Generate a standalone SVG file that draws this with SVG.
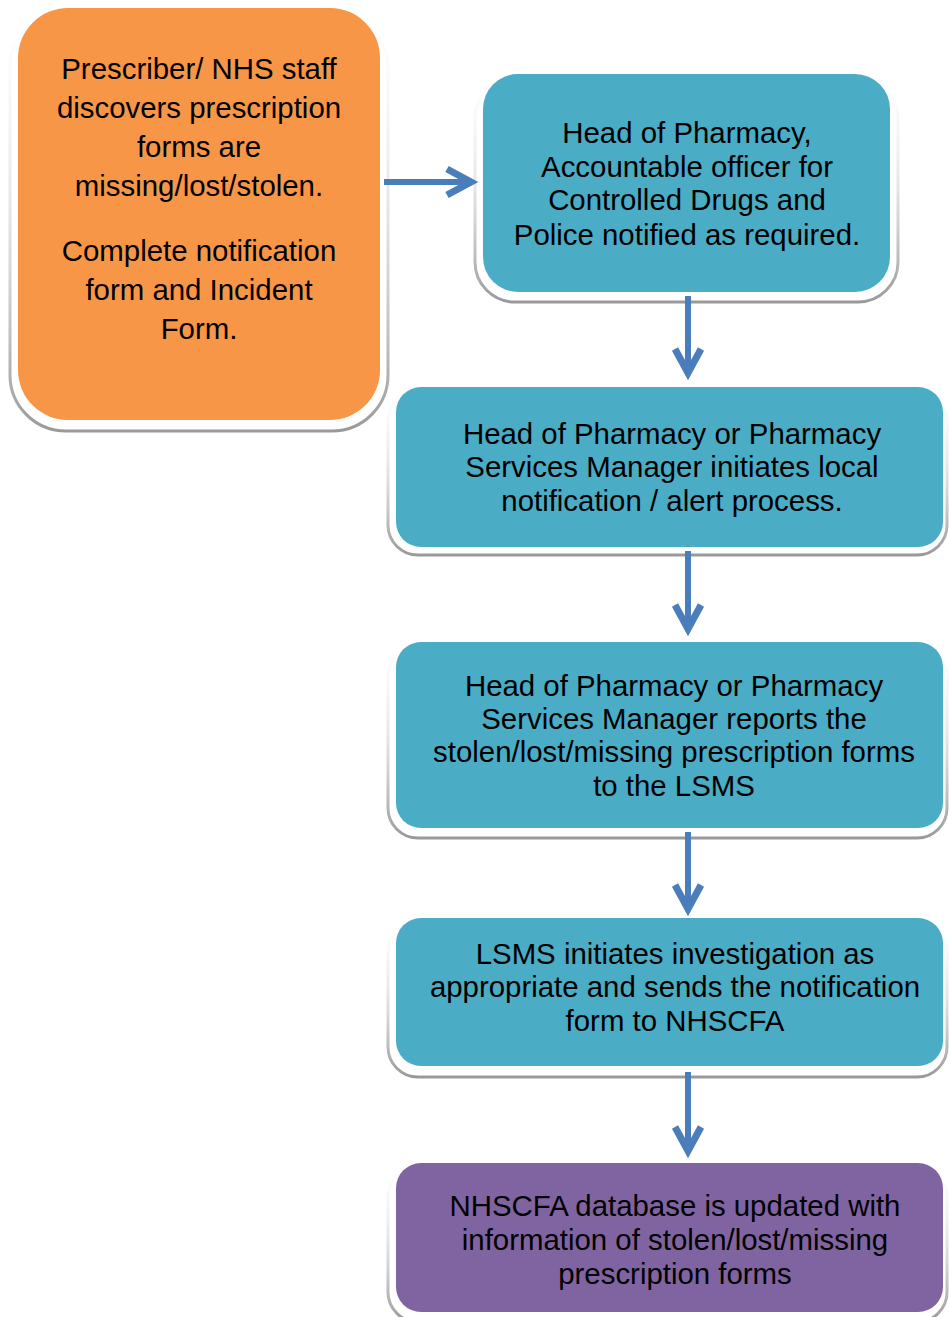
<svg xmlns="http://www.w3.org/2000/svg" width="949" height="1317" viewBox="0 0 949 1317">
<style>
.frame{fill:#ffffff;stroke:url(#fg);stroke-width:3}
.orange{fill:#F79646}
.teal{fill:#4BACC6}
.purple{fill:#8064A2}
.t{font-family:"Liberation Sans",Arial,sans-serif;font-size:29.4px;fill:#000;text-anchor:middle}
.conn{fill:none;stroke:#4A7EBB;stroke-width:6;marker-end:url(#ah)}
</style>
<defs>
<linearGradient id="fg" x1="0" y1="0" x2="0" y2="1">
<stop offset="0" stop-color="#e6e6e6" stop-opacity="0"/>
<stop offset="0.5" stop-color="#d0d0d0" stop-opacity="0.6"/>
<stop offset="1" stop-color="#999999" stop-opacity="1"/>
</linearGradient>
<marker id="ah" markerUnits="userSpaceOnUse" markerWidth="40" markerHeight="40" refX="0" refY="0" orient="auto" overflow="visible" viewBox="-30 -20 40 40">
<path d="M-24,-13 L0,0 L-24,13" fill="none" stroke="#4A7EBB" stroke-width="7" stroke-linejoin="miter" stroke-linecap="butt"/>
</marker>
</defs>
<g id="n1">
<rect class="frame" x="10" y="12" width="378" height="419" rx="56"/>
<rect class="orange" x="18" y="8" width="362" height="412" rx="50"/>
<text class="t"><tspan x="199" y="79">Prescriber/ NHS staff</tspan><tspan x="199" y="118">discovers prescription</tspan><tspan x="199" y="157">forms are</tspan><tspan x="199" y="196">missing/lost/stolen.</tspan><tspan x="199" y="261">Complete notification</tspan><tspan x="199" y="300">form and Incident</tspan><tspan x="199" y="339">Form.</tspan></text>
</g>
<g id="n2">
<rect class="frame" x="475" y="78" width="423" height="224" rx="40"/>
<rect class="teal" x="483" y="74" width="407" height="218" rx="35"/>
<text class="t"><tspan x="687" y="143">Head of Pharmacy,</tspan><tspan x="687" y="177">Accountable officer for</tspan><tspan x="687" y="210">Controlled Drugs and</tspan><tspan x="687" y="245">Police notified as required.</tspan></text>
</g>
<g id="n3">
<rect class="frame" x="388" y="391" width="559" height="164" rx="30"/>
<rect class="teal" x="396" y="387" width="547" height="160" rx="25"/>
<text class="t"><tspan x="672" y="444">Head of Pharmacy or Pharmacy</tspan><tspan x="672" y="477">Services Manager initiates local</tspan><tspan x="672" y="511">notification / alert process.</tspan></text>
</g>
<g id="n4">
<rect class="frame" x="388" y="646" width="559" height="192" rx="30"/>
<rect class="teal" x="396" y="642" width="547" height="186" rx="25"/>
<text class="t"><tspan x="674" y="696">Head of Pharmacy or Pharmacy</tspan><tspan x="674" y="729">Services Manager reports the</tspan><tspan x="674" y="762">stolen/lost/missing prescription forms</tspan><tspan x="674" y="796">to the LSMS</tspan></text>
</g>
<g id="n5">
<rect class="frame" x="388" y="922" width="559" height="155" rx="30"/>
<rect class="teal" x="396" y="918" width="547" height="148" rx="25"/>
<text class="t"><tspan x="675" y="964">LSMS initiates investigation as</tspan><tspan x="675" y="997">appropriate and sends the notification</tspan><tspan x="675" y="1031">form to NHSCFA</tspan></text>
</g>
<g id="n6">
<rect class="frame" x="388" y="1167" width="559" height="155" rx="30"/>
<rect class="purple" x="396" y="1163" width="547" height="149" rx="25"/>
<text class="t"><tspan x="675" y="1216">NHSCFA database is updated with</tspan><tspan x="675" y="1250">information of stolen/lost/missing</tspan><tspan x="675" y="1284">prescription forms</tspan></text>
</g>
<g id="connectors">
<path class="conn" d="M384,182 L471,182"/>
<path class="conn" d="M688,296 L688,373"/>
<path class="conn" d="M688,551 L688,629"/>
<path class="conn" d="M688,832 L688,909"/>
<path class="conn" d="M688,1072 L688,1151"/>
</g>
</svg>
